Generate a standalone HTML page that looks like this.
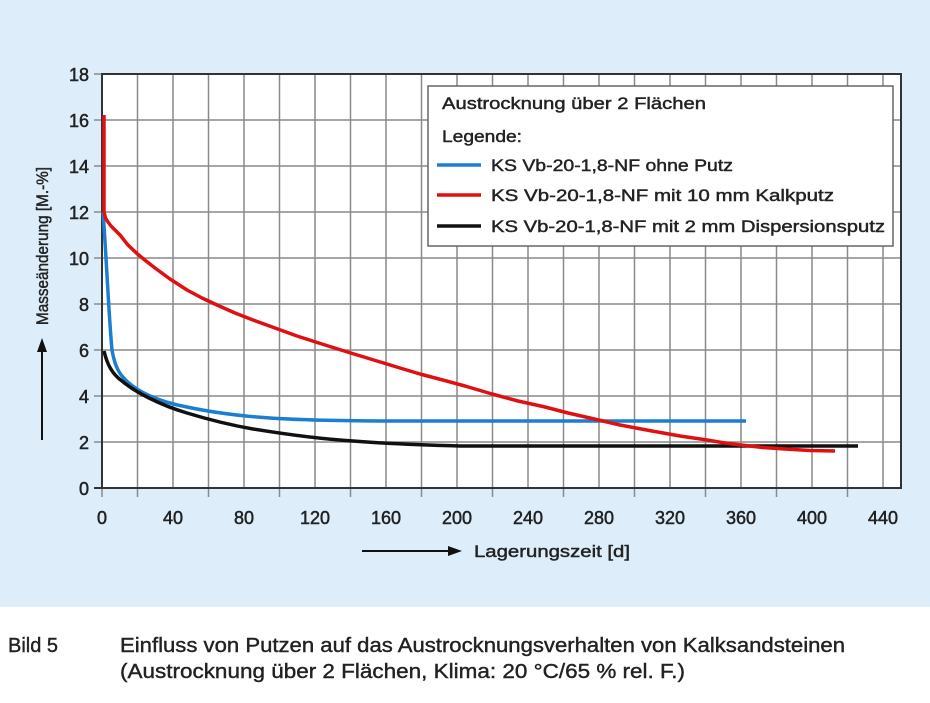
<!DOCTYPE html>
<html><head><meta charset="utf-8"><style>
body{margin:0;width:930px;height:698px;background:#fff;overflow:hidden;font-family:"Liberation Sans",sans-serif}
</style></head><body>
<svg width="930" height="698" xmlns="http://www.w3.org/2000/svg" font-family="Liberation Sans, sans-serif">
<rect x="0" y="0" width="930" height="607" fill="#ddeefa"/>
<rect x="102" y="74" width="799" height="414" fill="#fff"/>
<g stroke="#8a8a8a" stroke-width="1.5">
<path d="M137.5 74V497M173 74V488M208.5 74V497M244 74V488M279.5 74V497M315 74V488M350.5 74V497M386 74V488M421.5 74V497M457 74V488M492.5 74V497M528 74V488M563.5 74V497M599 74V488M634.5 74V497M670 74V488M705.5 74V497M741 74V488M776.5 74V497M812 74V488M847.5 74V497M883 74V488"/>
<path d="M94 442H901M94 396H901M94 350H901M94 304H901M94 258H901M94 212H901M94 166H901M94 120H901M94 74H901M102 488V497"/>
</g>
<rect x="102" y="74" width="799" height="414" fill="none" stroke="#333" stroke-width="2"/>
<path d="M94 488H102" stroke="#333" stroke-width="2"/>
<g font-size="18" fill="#222" stroke="#222" stroke-width="0.5" text-anchor="end">
<text x="89" y="495">0</text><text x="89" y="449">2</text><text x="89" y="403">4</text><text x="89" y="357">6</text><text x="89" y="311">8</text><text x="89" y="265">10</text><text x="89" y="219">12</text><text x="89" y="173">14</text><text x="89" y="127">16</text><text x="89" y="81">18</text>
</g>
<g font-size="18" fill="#222" stroke="#222" stroke-width="0.5" text-anchor="middle">
<text x="102" y="524">0</text><text x="173" y="524">40</text><text x="244" y="524">80</text><text x="315" y="524">120</text><text x="386" y="524">160</text><text x="457" y="524">200</text><text x="528" y="524">240</text><text x="599" y="524">280</text><text x="670" y="524">320</text><text x="741" y="524">360</text><text x="812" y="524">400</text><text x="883" y="524">440</text>
</g>
<g fill="none" stroke-width="3.5" stroke-linejoin="round" stroke-linecap="butt">
<path d="M103 212 C106 250 109 320 112 350 C114 362 117 370 122 376 C135 392 160 402 187 407 C215 413 240 416 270 418 C300 420 340 421 400 421 L746 421" stroke="#1a7fd0"/>
<path d="M104 351 C107 364 112 374 122 381 C135 392 160 405 187 413 C210 420 230 425 253 429 C290 435 320 439 353 441 C390 444 420 445 460 446 L858 446" stroke="#111"/>
<polyline points="104,115 104,212 105.5,218 108,222 111,226 115,230 120,235 128,245 137.5,254 146,261 155,268 170,279 187,290 202,298 217,305 235,313 253,320 275,328 297,336 325,345 354,354 377,361 400,368 420,374 439,379 465,386 492,394 518,401 545,407 568,413 590,418 620,425 652,431 680,436 707,440 725,443 741,445 763,447.5 785,449 810,450.5 835,451" stroke="#e01010"/>
</g>
<!-- legend -->
<rect x="428" y="86" width="465" height="160" fill="#fff" stroke="#666" stroke-width="1.5"/>
<g font-size="17" fill="#222" stroke="#222" stroke-width="0.45">
<text x="442" y="109" textLength="264" lengthAdjust="spacingAndGlyphs">Austrocknung über 2 Flächen</text>
<text x="442" y="142" textLength="80" lengthAdjust="spacingAndGlyphs">Legende:</text>
<text x="491" y="171" textLength="242" lengthAdjust="spacingAndGlyphs">KS Vb-20-1,8-NF ohne Putz</text>
<text x="491" y="201" textLength="343" lengthAdjust="spacingAndGlyphs">KS Vb-20-1,8-NF mit 10 mm Kalkputz</text>
<text x="491" y="232" textLength="394" lengthAdjust="spacingAndGlyphs">KS Vb-20-1,8-NF mit 2 mm Dispersionsputz</text>
</g>
<path d="M437 165H481" stroke="#1a7fd0" stroke-width="3.5"/>
<path d="M437 195H481" stroke="#e01010" stroke-width="3.5"/>
<path d="M437 226H481" stroke="#111" stroke-width="3.5"/>
<!-- axis labels -->
<text transform="translate(48,246) rotate(-90)" font-size="17" fill="#222" stroke="#222" stroke-width="0.45" text-anchor="middle" textLength="158" lengthAdjust="spacingAndGlyphs">Masseänderung [M.-%]</text>
<path d="M42 440V350" stroke="#111" stroke-width="2"/><path d="M42 338L37 352H47Z" fill="#111"/>
<path d="M362 551H450" stroke="#111" stroke-width="2"/><path d="M462 551L448 546V556Z" fill="#111"/>
<text x="474" y="557" font-size="17" fill="#222" stroke="#222" stroke-width="0.45" textLength="156" lengthAdjust="spacingAndGlyphs">Lagerungszeit [d]</text>
<g font-size="20" fill="#222" stroke="#222" stroke-width="0.4">
<text x="8" y="652" textLength="50" lengthAdjust="spacingAndGlyphs">Bild 5</text>
<text x="120" y="652" textLength="725" lengthAdjust="spacingAndGlyphs">Einfluss von Putzen auf das Austrocknungsverhalten von Kalksandsteinen</text>
<text x="120" y="678" textLength="565" lengthAdjust="spacingAndGlyphs">(Austrocknung über 2 Flächen, Klima: 20 °C/65 % rel. F.)</text>
</g>
</svg>
</body></html>
